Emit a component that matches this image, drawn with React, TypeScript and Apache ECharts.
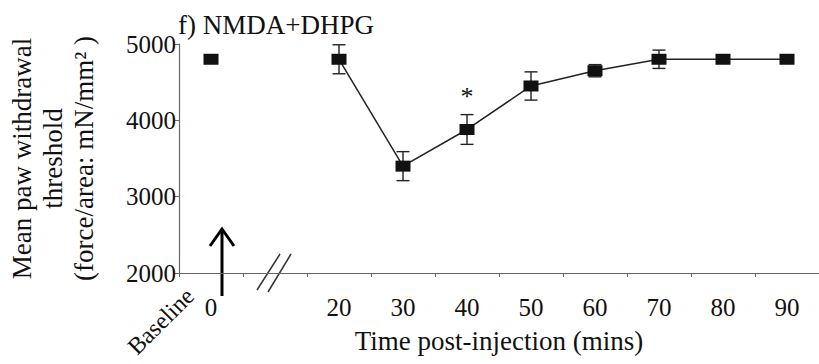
import React, { useEffect, useRef } from "react";
import * as echarts from "echarts";

const categories = ["0", "", "20", "30", "40", "50", "60", "70", "80", "90"];
const means: (number | null)[] = [4800, null, 4800, 3400, 3880, 4450, 4650, 4800, 4800, 4800];
const errors = [0, 0, 190, 190, 195, 185, 80, 120, 0, 0];
const significance = ["", "", "", "", "*", "", "", "", "", ""];
const yMin = 2000;
const yMax = 5000;
const yStep = 1000;

const FONT = "'Liberation Serif', 'Times New Roman', serif";

export default function App() {
  const ref = useRef<HTMLDivElement>(null);
  useEffect(() => {
    document.body.style.margin = "0";
    if (!ref.current) return;
    const chart = echarts.init(ref.current, undefined, { renderer: "svg" });
    const errData = means
      .map((m, i) => [i, m, errors[i]])
      .filter((d) => d[1] !== null && ((d[2] as number) > 0 || significance[d[0] as number]));
    chart.setOption({
      animation: false,
      backgroundColor: "#ffffff",
      title: {
        text: "f) NMDA+DHPG",
        left: 173,
        top: 6,
        textStyle: { fontFamily: FONT, fontSize: 27, fontWeight: "normal", color: "#111" },
      },
      grid: { left: 179, right: 0, top: 44, bottom: 91, containLabel: false, outerBoundsMode: "none" },
      xAxis: {
        type: "category",
        data: categories,
        boundaryGap: true,
        axisLine: { lineStyle: { color: "#666", width: 1.2 } },
        axisTick: { show: true, length: 4, alignWithLabel: false, lineStyle: { color: "#666" } },
        axisLabel: { fontFamily: FONT, fontSize: 25, color: "#111", margin: 22, interval: 0 },
        name: "Time post-injection (mins)",
        nameLocation: "middle",
        nameGap: 54,
        nameTextStyle: { fontFamily: FONT, fontSize: 27, color: "#111" },
        splitLine: { show: false },
      },
      yAxis: {
        type: "value",
        min: yMin,
        max: yMax,
        interval: yStep,
        axisLine: { show: true, lineStyle: { color: "#666", width: 1.2 } },
        axisTick: { show: true, length: 4, lineStyle: { color: "#666" } },
        axisLabel: { fontFamily: FONT, fontSize: 25, color: "#111", margin: 3, formatter: (v: number) => String(v) },
        splitLine: { show: false },
        name: "Mean paw withdrawal\nthreshold\n(force/area: mN/mm\u00B2 )",
        nameLocation: "middle",
        nameRotate: 90,
        nameGap: 80,
        nameTextStyle: { fontFamily: FONT, fontSize: 27, color: "#111", lineHeight: 31, align: "center" },
      },
      series: [
        {
          type: "custom",
          z: 2,
          data: errData,
          renderItem: (params: any, api: any) => {
            const idx = api.value(0);
            const m = api.value(1);
            const e = api.value(2);
            const x = api.coord([idx, m])[0];
            const top = api.coord([idx, m + e])[1];
            const bot = api.coord([idx, m - e])[1];
            const cap = 6.5;
            const style = { stroke: "#222", lineWidth: 1.4 };
            const children: any[] = [];
            if (e > 0) {
              children.push({ type: "line", shape: { x1: x, y1: top, x2: x, y2: bot }, style });
              children.push({ type: "line", shape: { x1: x - cap, y1: top, x2: x + cap, y2: top }, style });
              children.push({ type: "line", shape: { x1: x - cap, y1: bot, x2: x + cap, y2: bot }, style });
            }
            const s = significance[idx];
            if (s) {
              children.push({
                type: "text",
                style: { text: s, x, y: top - 18, align: "center", verticalAlign: "middle", fontSize: 26, fontFamily: FONT, fill: "#111" },
              });
            }
            return { type: "group", children };
          },
        },
        {
          type: "line",
          z: 3,
          data: means,
          connectNulls: false,
          symbol: "rect",
          symbolSize: [15, 11],
          showSymbol: true,
          itemStyle: { color: "#111" },
          lineStyle: { color: "#222", width: 1.5 },
        },
      ],
      graphic: [
        {
          type: "text",
          x: 190,
          y: 292,
          rotation: Math.PI / 4,
          style: { text: "Baseline", align: "right", verticalAlign: "middle", fontFamily: FONT, fontSize: 24, fill: "#111" },
        },
        { type: "line", shape: { x1: 222, y1: 296, x2: 222, y2: 229 }, style: { stroke: "#000", lineWidth: 3 } },
        { type: "polyline", shape: { points: [[210, 246], [222, 229], [234, 246]] }, style: { stroke: "#000", lineWidth: 3, fill: "none" } },
        { type: "line", shape: { x1: 257, y1: 290, x2: 280, y2: 254 }, style: { stroke: "#333", lineWidth: 1.5 } },
        { type: "line", shape: { x1: 268, y1: 292, x2: 291, y2: 254 }, style: { stroke: "#333", lineWidth: 1.5 } },
      ],
    });
    return () => chart.dispose();
  }, []);
  return <div ref={ref} style={{ width: 819, height: 364 }} />;
}
